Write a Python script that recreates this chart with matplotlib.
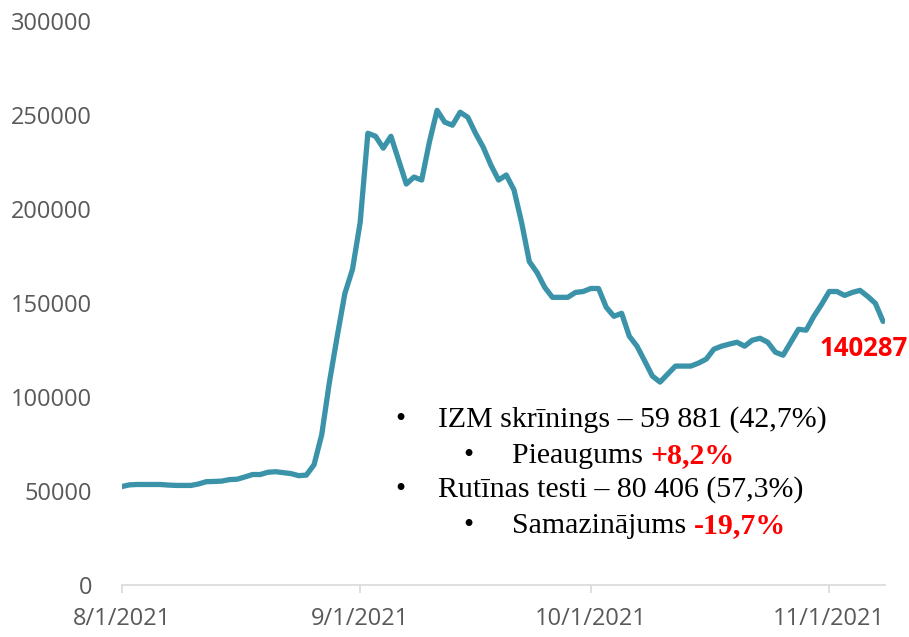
import numpy as np
import pandas as pd
import matplotlib
matplotlib.use("Agg")
import matplotlib.pyplot as plt
import matplotlib.dates as mdates

# 7 dienu testu skaits, katru dienu no 2021-08-01
datumi = pd.date_range("2021-08-01", periods=100, freq="D")
testi = [
    52400, 53300, 53500, 53500, 53500, 53500, 53200, 53000, 53000, 53000,
    53800, 55000, 55100, 55300, 56100, 56300, 57500, 58800, 58800, 60000,
    60300, 59800, 59300, 58200, 58500, 64000, 80000, 108000, 132000, 155000,
    168000, 193000, 240400, 238800, 232500, 238800, 226100, 213400, 217100, 215500,
    235700, 252600, 246300, 244700, 251600, 248900, 240400, 233000, 223500, 215500,
    218200, 210300, 192800, 172100, 166300, 158400, 153100, 153100, 153100, 155700,
    156200, 157800, 157800, 147800, 143000, 144600, 132400, 127100, 119200, 111200,
    108000, 112300, 116500, 116500, 116500, 118100, 120200, 125500, 127100, 128200,
    129200, 127100, 130300, 131300, 129200, 123900, 122300, 129200, 136100, 135600,
    143000, 149300, 156200, 156200, 154100, 155700, 156800, 153600, 149900, 140287,
]
y_ticks = [0, 50000, 100000, 150000, 200000, 250000, 300000]

rindas = [
    (0, "IZM skrīnings – 59 881 (42,7%)", ""),
    (1, "Pieaugums ", "+8,2%"),
    (0, "Rutīnas testi – 80 406 (57,3%)", ""),
    (1, "Samazinājums ", "-19,7%"),
]

fig = plt.figure(figsize=(9.09, 6.37), dpi=100)
ax = fig.add_axes([0.134, 0.0816, 0.84, 0.885])

ax.plot(datumi, testi, color="#3A93A8", linewidth=3.8, solid_capstyle="round",
        solid_joinstyle="round")

ax.set_ylim(0, 300000)
ax.set_yticks(y_ticks)
ax.set_xlim(datumi[0], datumi[0] + pd.Timedelta(days=99.3))
ax.xaxis.set_major_locator(mdates.MonthLocator())
ax.xaxis.set_major_formatter(
    plt.FuncFormatter(lambda v, p: (lambda d: f"{d.month}/{d.day}/{d.year}")(mdates.num2date(v)))
)

for s in ["top", "right", "left"]:
    ax.spines[s].set_visible(False)
ax.spines["bottom"].set_color("#D9D9D9")
ax.spines["bottom"].set_linewidth(1.2)
ax.tick_params(axis="x", direction="out", length=6, width=1.2, color="#D9D9D9",
               pad=10, labelsize=17, labelcolor="#595959")
ax.tick_params(axis="y", length=0, pad=21.5, labelsize=17, labelcolor="#595959")
for lbl in ax.get_xticklabels() + ax.get_yticklabels():
    lbl.set_family(["Open Sans", "DejaVu Sans"])

# pēdējā vērtība
ax.annotate(f"{testi[-1]}", xy=(datumi[-1], testi[-1]), xytext=(-45.4, -10),
            textcoords="offset points", color="#FF0000", fontsize=18.5,
            fontweight="bold", family=["Open Sans", "DejaVu Sans"],
            ha="left", va="top", annotation_clip=False)

# teksta bloks
bazes_y = [427, 463, 497, 533]
bullet_x = [400, 468]
teksts_x = [438, 512]
for (limenis, pamats, sarkans), by in zip(rindas, bazes_y):
    yf = 1 - by / 637
    fig.text(bullet_x[limenis] / 909, yf, "•", fontsize=21, family="Liberation Serif",
             ha="center", va="baseline")
    t = fig.text(teksts_x[limenis] / 909, yf, pamats, fontsize=21.5,
                 family="Liberation Serif", ha="left", va="baseline")
    if sarkans:
        ax.annotate(sarkans, xy=(1, 0), xycoords=t, ha="left", va="bottom",
                    fontsize=21.5, family="Liberation Serif", fontweight="bold",
                    color="#FF0000", annotation_clip=False)

fig.savefig("out.png", dpi=100)
